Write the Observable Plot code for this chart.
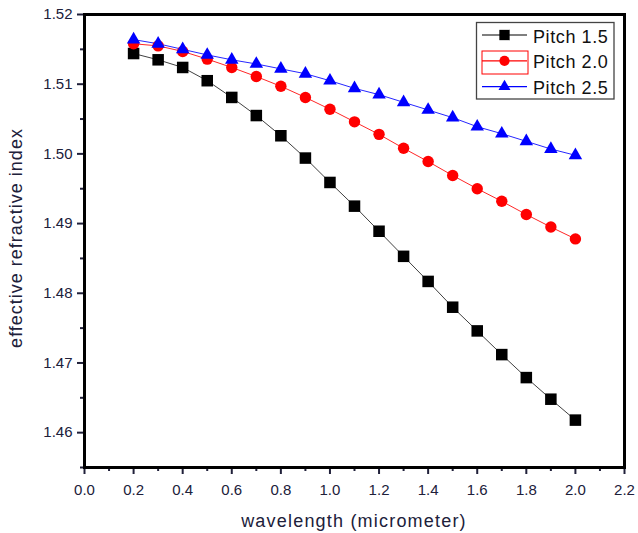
<!DOCTYPE html>
<html>
<head>
<meta charset="utf-8">
<script src="https://cdn.jsdelivr.net/npm/d3@7"></script>
<script src="https://cdn.jsdelivr.net/npm/@observablehq/plot@0.6"></script>
<style>
  html, body { margin: 0; padding: 0; background: #fff; }
  #wrap { position: relative; width: 638px; height: 533px; overflow: hidden; }
  #legend { position: absolute; left: 0; top: 0; }
</style>
</head>
<body>
<div id="wrap"></div>
<script>
const wavelength = [0.2,0.3,0.4,0.5,0.6,0.7,0.8,0.9,1.0,1.1,1.2,1.3,1.4,1.5,1.6,1.7,1.8,1.9,2.0];
const pitch15 = [1.5144,1.5135,1.5124,1.5105,1.5081,1.5055,1.5026,1.4994,1.4959,1.4925,1.4889,1.4853,1.4817,1.4780,1.4746,1.4712,1.4679,1.4648,1.4618];
const pitch20 = [1.5158,1.5155,1.5147,1.5136,1.5124,1.5111,1.5097,1.5081,1.5064,1.5046,1.5028,1.5008,1.4989,1.4969,1.4950,1.4932,1.4913,1.4895,1.4878];
const pitch25 = [1.5164,1.5158,1.5150,1.5142,1.5135,1.5129,1.5122,1.5115,1.5105,1.5094,1.5085,1.5074,1.5063,1.5052,1.5039,1.5029,1.5018,1.5007,1.4998];
const seriesNames = ["Pitch 1.5","Pitch 2.0","Pitch 2.5"];
const seriesColors = ["#000000","#ff0000","#0000ff"];
const seriesSymbols = ["square","circle","triangle"];
const yTicks = [1.46,1.47,1.48,1.49,1.50,1.51,1.52];
const yMinor = [1.455,1.465,1.475,1.485,1.495,1.505,1.515];
const xTicks = [0.0,0.2,0.4,0.6,0.8,1.0,1.2,1.4,1.6,1.8,2.0,2.2];
const xMinor = [0.1,0.3,0.5,0.7,0.9,1.1,1.3,1.5,1.7,1.9,2.1];

const allSeries = [pitch15, pitch20, pitch25];
const rows = (i) => wavelength.map((w, j) => ({x: w, y: allSeries[i][j], s: seriesNames[i]}));
const dotR = [6.5, 5.7, 5.0];

const font = "'Liberation Sans', Arial, sans-serif";
const textColor = "#20203a";
const marks = [];
for (let i = 0; i < 3; i++) {
  marks.push(Plot.line(rows(i), {x: "x", y: "y", stroke: seriesColors[i], strokeWidth: 1, strokeOpacity: i === 0 ? 0.75 : 0.85}));
}
for (let i = 0; i < 3; i++) {
  marks.push(Plot.dot(rows(i), {x: "x", y: "y", fill: seriesColors[i], stroke: "none", symbol: () => seriesSymbols[i], r: dotR[i]}));
}
marks.push(
  Plot.axisY(yTicks, {tickSize: 7, tickPadding: 5, tickFormat: d3.format(".2f"), fontSize: 15, strokeWidth: 2, label: null}),
  Plot.axisY(yMinor, {tickSize: 4, text: null, strokeWidth: 2, label: null}),
  Plot.axisX(xTicks, {tickSize: 7, tickPadding: 10, tickFormat: d3.format(".1f"), fontSize: 15, strokeWidth: 2, label: null}),
  Plot.axisX(xMinor, {tickSize: 4, text: null, strokeWidth: 2, label: null}),
  Plot.frame({stroke: "#000", strokeWidth: 3})
);

const chart = Plot.plot({
  width: 638,
  height: 533,
  marginLeft: 84,
  marginRight: 14,
  marginTop: 14,
  marginBottom: 66,
  style: {fontFamily: font, color: textColor, background: "#fff"},
  x: {domain: [0, 2.2], label: null},
  y: {domain: [1.455, 1.52], label: null},
  marks
});
const wrap = document.getElementById("wrap");
wrap.appendChild(chart);

// axis titles and legend overlay
const svg = d3.select(wrap).append("svg").attr("id", "legend").attr("width", 638).attr("height", 533)
  .style("font-family", font);
svg.append("text").attr("x", 354).attr("y", 527).attr("text-anchor", "middle")
  .attr("font-size", 18).attr("fill", textColor).attr("letter-spacing", 1.2).text("wavelength (micrometer)");
svg.append("text").attr("transform", "translate(22,238) rotate(-90)").attr("text-anchor", "middle")
  .attr("font-size", 18).attr("fill", textColor).attr("letter-spacing", 1).text("effective refractive index");

const lg = svg.append("g");
lg.append("rect").attr("x", 476.5).attr("y", 22.5).attr("width", 137.5).attr("height", 76.5)
  .attr("fill", "#fff").attr("stroke", "#444").attr("stroke-width", 1.3);
const sym = [d3.symbolSquare, d3.symbolCircle, d3.symbolTriangle];
const symSize = dotR.map(r => r * r * Math.PI);
seriesNames.forEach((name, i) => {
  const cy = 35 + i * 25.8;
  lg.append("line").attr("x1", 482).attr("x2", 527).attr("y1", cy).attr("y2", cy)
    .attr("stroke", seriesColors[i]).attr("stroke-width", 1.2);
  lg.append("path").attr("d", d3.symbol(sym[i], symSize[i] * 0.8)()).attr("transform", `translate(504.5,${cy})`)
    .attr("fill", seriesColors[i]);
  lg.append("text").attr("x", 533).attr("y", cy + 7.5).attr("font-size", 18).attr("letter-spacing", 0.6)
    .attr("fill", "#111").text(name);
});
lg.append("rect").attr("x", 482).attr("y", 51).attr("width", 46).attr("height", 23)
  .attr("fill", "none").attr("stroke", "#ff0000").attr("stroke-width", 1);
</script>
</body>
</html>
